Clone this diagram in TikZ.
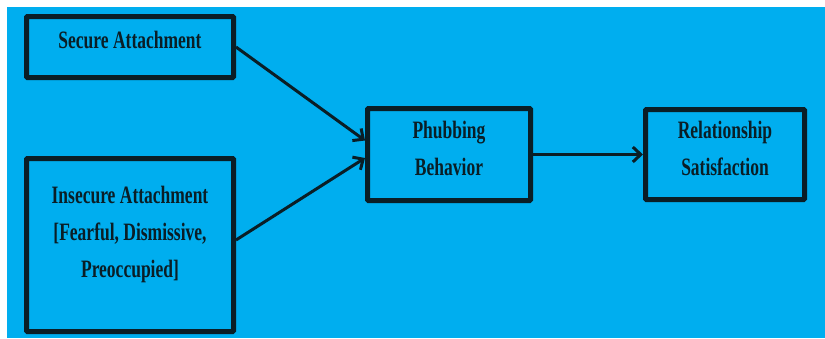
\documentclass[tikz,border=0pt]{standalone}
\usepackage{fontspec}
\setmainfont[FakeStretch=0.70]{Liberation Serif}
\usetikzlibrary{arrows.meta}
\definecolor{bgBlue}{RGB}{0,174,239}
\definecolor{inkDark}{RGB}{10,30,38}
\tikzset{
  varBox/.style={draw=inkDark,line width=5pt,rounded corners=1pt,align=center,text=inkDark,inner sep=0pt,font=\fontsize{25}{37}\selectfont\bfseries},
  pathArrow/.style={draw=inkDark,line width=3pt,-{Straight Barb[length=8pt,width=15pt]}}
}
\begin{document}
\begin{tikzpicture}[x=1pt,y=-1pt]
\useasboundingbox (0,0) rectangle (825,338);
\fill[white](0,0) rectangle (825,338);
\fill[bgBlue](6.5,7) rectangle (825,338);
\node[varBox,minimum width=207pt,minimum height=61pt,text depth=14pt](secure) at (130,47) {Secure Attachment};
\node[varBox,minimum width=207pt,minimum height=173pt,text depth=26pt](insecure) at (130,245) {Insecure Attachment\\{[}Fearful, Dismissive,\\Preoccupied{]}};
\node[varBox,minimum width=163pt,minimum height=92pt,text depth=13pt](phubbing) at (449,154.5) {Phubbing\\Behavior};
\node[varBox,minimum width=159pt,minimum height=90pt,text depth=13pt](relation) at (725,154.5) {Relationship\\Satisfaction};
\draw[pathArrow](secure.east)--([yshift=14pt]phubbing.west);
\draw[pathArrow]([yshift=5pt]insecure.east)--([yshift=-3.5pt]phubbing.west);
\draw[pathArrow](phubbing.east)--(relation.west);
\end{tikzpicture}
\end{document}
